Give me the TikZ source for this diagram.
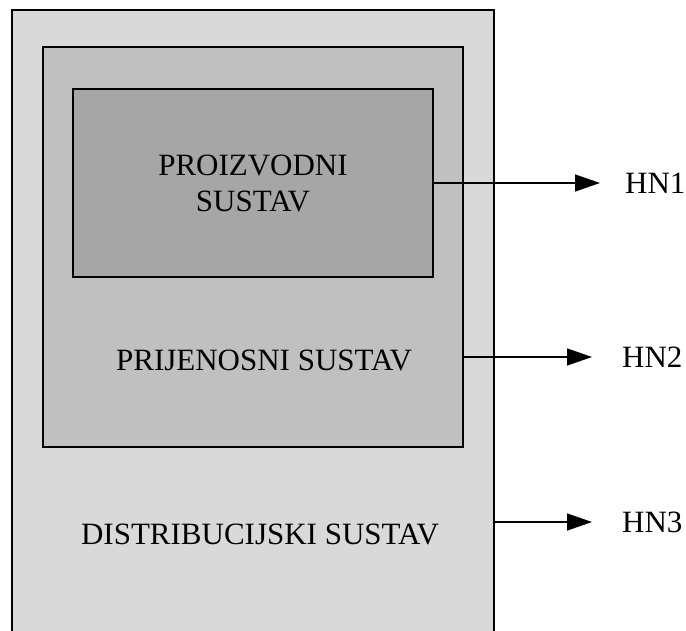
\documentclass[tikz,border=0pt]{standalone}
\usepackage{fontspec}
\setmainfont{Liberation Serif}
\usetikzlibrary{arrows.meta}
\definecolor{outerfill}{HTML}{D9D9D9}
\definecolor{midfill}{HTML}{C0C0C0}
\definecolor{innerfill}{HTML}{A6A6A6}
\tikzset{
  box/.style={draw=black, line width=2pt},
  lbl/.style={font=\fontsize{31}{36}\selectfont, inner sep=0pt, align=center},
  hn/.style={font=\fontsize{31}{36}\selectfont, inner sep=0pt, anchor=west},
  outarrow/.style={line width=1.4pt, -{Triangle[length=25pt,width=17pt]}}
}
\begin{document}
\begin{tikzpicture}[x=1pt,y=-1pt]
\useasboundingbox (0,0) rectangle (686,631);
\clip (0,0) rectangle (686,631);
\draw[box, fill=outerfill] (12,10) rectangle (494,645);
\draw[box, fill=midfill] (43,47) rectangle (463,447);
\draw[box, fill=innerfill] (73,89) rectangle (433,277);
\node[lbl] (prod) at (253,183.5) {PROIZVODNI\\SUSTAV};
\node[lbl] (prij) at (264,360) {PRIJENOSNI SUSTAV};
\node[lbl] (dist) at (260,534) {DISTRIBUCIJSKI SUSTAV};
\coordinate (s1) at (433,183);
\coordinate (s2) at (463,357);
\coordinate (s3) at (494,522);
\coordinate (t1) at (600,183);
\coordinate (t2) at (592,357);
\coordinate (t3) at (592,522);
\draw[outarrow] (s1) -- (t1);
\draw[outarrow] (s2) -- (t2);
\draw[outarrow] (s3) -- (t3);
\node[hn] (hn1) at (625,183) {HN1};
\node[hn] (hn2) at (622,357) {HN2};
\node[hn] (hn3) at (622,522) {HN3};
\end{tikzpicture}
\end{document}
